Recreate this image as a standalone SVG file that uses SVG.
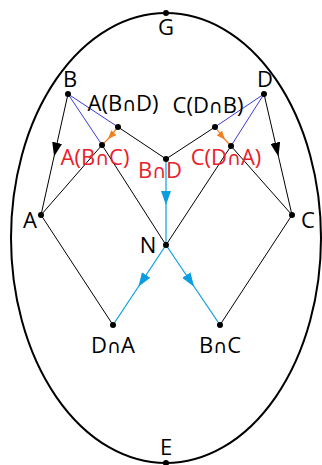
<svg xmlns="http://www.w3.org/2000/svg" width="322" height="465" viewBox="0 0 322 465">
<style>
text{font-family:"Open Sans","Liberation Sans",sans-serif;font-size:22px;text-anchor:middle}
.i{font-family:"DejaVu Sans",sans-serif;font-size:19px}
.r{fill:#e8202a}
.k{stroke:#000;stroke-width:1;fill:none}
.b{stroke:#3a3ad8;stroke-width:1;fill:none}
.c{stroke:#0b9de0;stroke-width:1.2;fill:none}
.o{stroke:#f08020;stroke-width:1.2;fill:none}
.dot{fill:#000}
</style>
<defs>
<marker id="ak" viewBox="0 0 14 10" refX="12" refY="5" markerWidth="14" markerHeight="10" markerUnits="userSpaceOnUse" orient="auto"><path d="M0,0 L14,5 L0,10 Z" fill="#000"/></marker>
<marker id="ac" viewBox="0 0 14 10" refX="12" refY="5" markerWidth="14" markerHeight="10" markerUnits="userSpaceOnUse" orient="auto"><path d="M0,0 L14,5 L0,10 Z" fill="#0b9de0"/></marker>
<marker id="ao" viewBox="0 0 10 8" refX="9" refY="4" markerWidth="9" markerHeight="7" markerUnits="userSpaceOnUse" orient="auto"><path d="M0,0 L10,4 L0,8 Z" fill="#f08020"/></marker>
</defs>
<ellipse cx="166" cy="238" rx="155" ry="225" fill="none" stroke="#000" stroke-width="2"/>
<g id="connectors">
<path class="k" d="M68,94 L54.5,154.5 L41,215" marker-mid="url(#ak)"/>
<path class="k" d="M264,94 L278,154.5 L292,215" marker-mid="url(#ak)"/>
<path class="k" d="M41,215 L102,145"/>
<path class="k" d="M102,145 L166,245"/>
<path class="k" d="M41,215 L113,325"/>
<path class="k" d="M118,127 L166,159 L215,127"/>
<path class="k" d="M292,215 L231,146"/>
<path class="k" d="M231,146 L166,245"/>
<path class="k" d="M292,215 L220,325"/>
<path class="b" d="M68,94 L118,127 M68,94 L102,145"/>
<path class="b" d="M264,94 L215,127 M264,94 L231,146"/>
<path class="o" d="M118,127 L108.5,138.5 L102,145" marker-mid="url(#ao)"/>
<path class="o" d="M215,127 L224.5,139 L231,146" marker-mid="url(#ao)"/>
<path class="c" d="M166,159 L166,203 L166,245" marker-mid="url(#ac)"/>
<path class="c" d="M166,245 L139.5,285 L113,325" marker-mid="url(#ac)"/>
<path class="c" d="M166,245 L193,285 L220,325" marker-mid="url(#ac)"/>
</g>
<g id="G"><circle class="dot" cx="166" cy="13" r="3"/><text x="166" y="35">G</text></g>
<g id="E"><circle class="dot" cx="166" cy="463" r="3"/><text x="166" y="455">E</text></g>
<g id="B"><circle class="dot" cx="68" cy="94" r="3"/><text x="70" y="87">B</text></g>
<g id="D"><circle class="dot" cx="264" cy="94" r="3"/><text x="265" y="87">D</text></g>
<g id="ABD"><circle class="dot" cx="118" cy="127" r="3"/><text x="123" y="111">A(B<tspan class="i">∩</tspan>D)</text></g>
<g id="CDB"><circle class="dot" cx="215" cy="127" r="3"/><text x="208" y="113">C(D<tspan class="i">∩</tspan>B)</text></g>
<g id="ABC"><circle class="dot" cx="102" cy="145" r="3"/><text class="r" x="95" y="165">A(B<tspan class="i">∩</tspan>C)</text></g>
<g id="CDA"><circle class="dot" cx="231" cy="146" r="3"/><text class="r" x="226" y="165">C(D<tspan class="i">∩</tspan>A)</text></g>
<g id="BD"><circle class="dot" cx="166" cy="159" r="3"/><text class="r" x="160" y="178">B<tspan class="i">∩</tspan>D</text></g>
<g id="A"><circle class="dot" cx="41" cy="215" r="3"/><text x="30" y="228">A</text></g>
<g id="C"><circle class="dot" cx="292" cy="215" r="3"/><text x="308" y="228">C</text></g>
<g id="N"><circle class="dot" cx="166" cy="245" r="3"/><text x="148" y="253">N</text></g>
<g id="DA"><circle class="dot" cx="113" cy="325" r="3"/><text x="113" y="353">D<tspan class="i">∩</tspan>A</text></g>
<g id="BC"><circle class="dot" cx="220" cy="325" r="3"/><text x="220" y="353">B<tspan class="i">∩</tspan>C</text></g>
</svg>
